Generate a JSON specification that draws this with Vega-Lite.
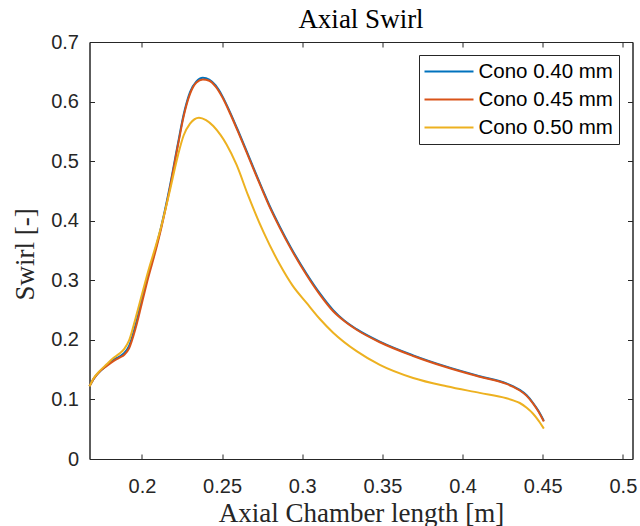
{
  "$schema": "https://vega.github.io/schema/vega-lite/v6.json",
  "width": 543,
  "height": 417,
  "autosize": {"type": "none"},
  "padding": {"left": 89.5, "top": 42, "right": 7.5, "bottom": 67},
  "background": "white",
  "config": {"view": {"stroke": "#262626", "strokeWidth": 1}},
  "title": {"text": "Axial Swirl", "font": "Liberation Serif", "fontSize": 27, "fontWeight": "normal", "color": "#000000", "anchor": "middle", "frame": "group", "baseline": "alphabetic", "offset": 12, "dy": 35},
  "data": {"values": [
    {"s": "Cono 0.40 mm", "x": 0.1673, "y": 0.122},
    {"s": "Cono 0.40 mm", "x": 0.170, "y": 0.135},
    {"s": "Cono 0.40 mm", "x": 0.1734, "y": 0.146},
    {"s": "Cono 0.40 mm", "x": 0.178, "y": 0.157},
    {"s": "Cono 0.40 mm", "x": 0.182, "y": 0.166},
    {"s": "Cono 0.40 mm", "x": 0.186, "y": 0.172},
    {"s": "Cono 0.40 mm", "x": 0.189, "y": 0.178},
    {"s": "Cono 0.40 mm", "x": 0.192, "y": 0.190},
    {"s": "Cono 0.40 mm", "x": 0.196, "y": 0.225},
    {"s": "Cono 0.40 mm", "x": 0.200, "y": 0.268},
    {"s": "Cono 0.40 mm", "x": 0.204, "y": 0.310},
    {"s": "Cono 0.40 mm", "x": 0.208, "y": 0.348},
    {"s": "Cono 0.40 mm", "x": 0.212, "y": 0.390},
    {"s": "Cono 0.40 mm", "x": 0.2173, "y": 0.456},
    {"s": "Cono 0.40 mm", "x": 0.2225, "y": 0.530},
    {"s": "Cono 0.40 mm", "x": 0.226, "y": 0.578},
    {"s": "Cono 0.40 mm", "x": 0.230, "y": 0.616},
    {"s": "Cono 0.40 mm", "x": 0.234, "y": 0.634},
    {"s": "Cono 0.40 mm", "x": 0.238, "y": 0.640},
    {"s": "Cono 0.40 mm", "x": 0.242, "y": 0.637},
    {"s": "Cono 0.40 mm", "x": 0.246, "y": 0.627},
    {"s": "Cono 0.40 mm", "x": 0.250, "y": 0.610},
    {"s": "Cono 0.40 mm", "x": 0.255, "y": 0.582},
    {"s": "Cono 0.40 mm", "x": 0.260, "y": 0.551},
    {"s": "Cono 0.40 mm", "x": 0.265, "y": 0.519},
    {"s": "Cono 0.40 mm", "x": 0.270, "y": 0.486},
    {"s": "Cono 0.40 mm", "x": 0.275, "y": 0.454},
    {"s": "Cono 0.40 mm", "x": 0.280, "y": 0.423},
    {"s": "Cono 0.40 mm", "x": 0.286, "y": 0.390},
    {"s": "Cono 0.40 mm", "x": 0.2927, "y": 0.356},
    {"s": "Cono 0.40 mm", "x": 0.3027, "y": 0.311},
    {"s": "Cono 0.40 mm", "x": 0.311, "y": 0.278},
    {"s": "Cono 0.40 mm", "x": 0.3193, "y": 0.250},
    {"s": "Cono 0.40 mm", "x": 0.326, "y": 0.233},
    {"s": "Cono 0.40 mm", "x": 0.3339, "y": 0.218},
    {"s": "Cono 0.40 mm", "x": 0.3484, "y": 0.197},
    {"s": "Cono 0.40 mm", "x": 0.3692, "y": 0.174},
    {"s": "Cono 0.40 mm", "x": 0.390, "y": 0.155},
    {"s": "Cono 0.40 mm", "x": 0.4107, "y": 0.139},
    {"s": "Cono 0.40 mm", "x": 0.4274, "y": 0.127},
    {"s": "Cono 0.40 mm", "x": 0.432, "y": 0.1215},
    {"s": "Cono 0.40 mm", "x": 0.4357, "y": 0.116},
    {"s": "Cono 0.40 mm", "x": 0.440, "y": 0.107},
    {"s": "Cono 0.40 mm", "x": 0.444, "y": 0.094},
    {"s": "Cono 0.40 mm", "x": 0.4475, "y": 0.080},
    {"s": "Cono 0.40 mm", "x": 0.4507, "y": 0.064},

    {"s": "Cono 0.45 mm", "x": 0.1673, "y": 0.122},
    {"s": "Cono 0.45 mm", "x": 0.170, "y": 0.135},
    {"s": "Cono 0.45 mm", "x": 0.1734, "y": 0.146},
    {"s": "Cono 0.45 mm", "x": 0.178, "y": 0.156},
    {"s": "Cono 0.45 mm", "x": 0.182, "y": 0.164},
    {"s": "Cono 0.45 mm", "x": 0.186, "y": 0.170},
    {"s": "Cono 0.45 mm", "x": 0.189, "y": 0.175},
    {"s": "Cono 0.45 mm", "x": 0.192, "y": 0.186},
    {"s": "Cono 0.45 mm", "x": 0.196, "y": 0.219},
    {"s": "Cono 0.45 mm", "x": 0.200, "y": 0.262},
    {"s": "Cono 0.45 mm", "x": 0.204, "y": 0.305},
    {"s": "Cono 0.45 mm", "x": 0.208, "y": 0.344},
    {"s": "Cono 0.45 mm", "x": 0.212, "y": 0.387},
    {"s": "Cono 0.45 mm", "x": 0.2173, "y": 0.453},
    {"s": "Cono 0.45 mm", "x": 0.2225, "y": 0.527},
    {"s": "Cono 0.45 mm", "x": 0.226, "y": 0.575},
    {"s": "Cono 0.45 mm", "x": 0.230, "y": 0.613},
    {"s": "Cono 0.45 mm", "x": 0.234, "y": 0.632},
    {"s": "Cono 0.45 mm", "x": 0.238, "y": 0.637},
    {"s": "Cono 0.45 mm", "x": 0.242, "y": 0.635},
    {"s": "Cono 0.45 mm", "x": 0.246, "y": 0.625},
    {"s": "Cono 0.45 mm", "x": 0.250, "y": 0.608},
    {"s": "Cono 0.45 mm", "x": 0.255, "y": 0.580},
    {"s": "Cono 0.45 mm", "x": 0.260, "y": 0.549},
    {"s": "Cono 0.45 mm", "x": 0.265, "y": 0.517},
    {"s": "Cono 0.45 mm", "x": 0.270, "y": 0.484},
    {"s": "Cono 0.45 mm", "x": 0.275, "y": 0.452},
    {"s": "Cono 0.45 mm", "x": 0.280, "y": 0.421},
    {"s": "Cono 0.45 mm", "x": 0.286, "y": 0.388},
    {"s": "Cono 0.45 mm", "x": 0.2927, "y": 0.354},
    {"s": "Cono 0.45 mm", "x": 0.3027, "y": 0.309},
    {"s": "Cono 0.45 mm", "x": 0.311, "y": 0.276},
    {"s": "Cono 0.45 mm", "x": 0.3193, "y": 0.248},
    {"s": "Cono 0.45 mm", "x": 0.326, "y": 0.232},
    {"s": "Cono 0.45 mm", "x": 0.3339, "y": 0.217},
    {"s": "Cono 0.45 mm", "x": 0.3484, "y": 0.196},
    {"s": "Cono 0.45 mm", "x": 0.3692, "y": 0.173},
    {"s": "Cono 0.45 mm", "x": 0.390, "y": 0.154},
    {"s": "Cono 0.45 mm", "x": 0.4107, "y": 0.138},
    {"s": "Cono 0.45 mm", "x": 0.4274, "y": 0.126},
    {"s": "Cono 0.45 mm", "x": 0.432, "y": 0.1205},
    {"s": "Cono 0.45 mm", "x": 0.4357, "y": 0.115},
    {"s": "Cono 0.45 mm", "x": 0.440, "y": 0.106},
    {"s": "Cono 0.45 mm", "x": 0.444, "y": 0.093},
    {"s": "Cono 0.45 mm", "x": 0.4475, "y": 0.079},
    {"s": "Cono 0.45 mm", "x": 0.4507, "y": 0.063},

    {"s": "Cono 0.50 mm", "x": 0.1673, "y": 0.122},
    {"s": "Cono 0.50 mm", "x": 0.170, "y": 0.136},
    {"s": "Cono 0.50 mm", "x": 0.1734, "y": 0.147},
    {"s": "Cono 0.50 mm", "x": 0.178, "y": 0.159},
    {"s": "Cono 0.50 mm", "x": 0.182, "y": 0.169},
    {"s": "Cono 0.50 mm", "x": 0.186, "y": 0.177},
    {"s": "Cono 0.50 mm", "x": 0.189, "y": 0.185},
    {"s": "Cono 0.50 mm", "x": 0.192, "y": 0.199},
    {"s": "Cono 0.50 mm", "x": 0.196, "y": 0.236},
    {"s": "Cono 0.50 mm", "x": 0.200, "y": 0.276},
    {"s": "Cono 0.50 mm", "x": 0.204, "y": 0.316},
    {"s": "Cono 0.50 mm", "x": 0.208, "y": 0.352},
    {"s": "Cono 0.50 mm", "x": 0.212, "y": 0.390},
    {"s": "Cono 0.50 mm", "x": 0.2173, "y": 0.449},
    {"s": "Cono 0.50 mm", "x": 0.2225, "y": 0.510},
    {"s": "Cono 0.50 mm", "x": 0.226, "y": 0.543},
    {"s": "Cono 0.50 mm", "x": 0.230, "y": 0.563},
    {"s": "Cono 0.50 mm", "x": 0.2356, "y": 0.573},
    {"s": "Cono 0.50 mm", "x": 0.240, "y": 0.569},
    {"s": "Cono 0.50 mm", "x": 0.2445, "y": 0.559},
    {"s": "Cono 0.50 mm", "x": 0.249, "y": 0.544},
    {"s": "Cono 0.50 mm", "x": 0.2528, "y": 0.528},
    {"s": "Cono 0.50 mm", "x": 0.259, "y": 0.494},
    {"s": "Cono 0.50 mm", "x": 0.2663, "y": 0.442},
    {"s": "Cono 0.50 mm", "x": 0.276, "y": 0.380},
    {"s": "Cono 0.50 mm", "x": 0.2861, "y": 0.326},
    {"s": "Cono 0.50 mm", "x": 0.294, "y": 0.291},
    {"s": "Cono 0.50 mm", "x": 0.3027, "y": 0.262},
    {"s": "Cono 0.50 mm", "x": 0.311, "y": 0.235},
    {"s": "Cono 0.50 mm", "x": 0.3193, "y": 0.212},
    {"s": "Cono 0.50 mm", "x": 0.3339, "y": 0.181},
    {"s": "Cono 0.50 mm", "x": 0.3484, "y": 0.158},
    {"s": "Cono 0.50 mm", "x": 0.3692, "y": 0.136},
    {"s": "Cono 0.50 mm", "x": 0.390, "y": 0.122},
    {"s": "Cono 0.50 mm", "x": 0.4107, "y": 0.111},
    {"s": "Cono 0.50 mm", "x": 0.4274, "y": 0.102},
    {"s": "Cono 0.50 mm", "x": 0.432, "y": 0.098},
    {"s": "Cono 0.50 mm", "x": 0.4357, "y": 0.094},
    {"s": "Cono 0.50 mm", "x": 0.440, "y": 0.086},
    {"s": "Cono 0.50 mm", "x": 0.444, "y": 0.076},
    {"s": "Cono 0.50 mm", "x": 0.4475, "y": 0.064},
    {"s": "Cono 0.50 mm", "x": 0.4507, "y": 0.051}
  ]},
  "layer": [
    {
      "mark": {"type": "line", "strokeWidth": 2, "interpolate": "monotone"},
      "encoding": {
        "x": {"field": "x", "type": "quantitative",
          "scale": {"domain": [0.1673, 0.506], "nice": false, "zero": false},
          "axis": {"orient": "bottom", "values": [0.2, 0.25, 0.3, 0.35, 0.4, 0.45, 0.5], "format": "~g", "grid": false,
            "tickSize": -5, "tickColor": "#262626", "domainColor": "#262626",
            "labelFont": "Liberation Sans", "labelFontSize": 20, "labelColor": "#262626", "labelBaseline": "alphabetic", "labelPadding": 38, "labelFlush": false, "labelOverlap": false,
            "title": "Axial Chamber length [m]", "titleFont": "Liberation Serif", "titleFontSize": 27, "titleFontWeight": "normal", "titleColor": "#262626", "titleBaseline": "alphabetic", "titleY": 62}},
        "y": {"field": "y", "type": "quantitative",
          "scale": {"domain": [0, 0.7], "nice": false},
          "axis": {"orient": "left", "values": [0, 0.1, 0.2, 0.3, 0.4, 0.5, 0.6, 0.7], "format": "~g", "grid": false,
            "tickSize": -5, "tickColor": "#262626", "domainColor": "#262626",
            "labelFont": "Liberation Sans", "labelFontSize": 20, "labelColor": "#262626", "labelPadding": 16, "labelFlush": false, "labelOverlap": false,
            "title": "Swirl [-]", "titleFont": "Liberation Serif", "titleFontSize": 27, "titleFontWeight": "normal", "titleColor": "#262626", "titleBaseline": "alphabetic", "titleX": -56, "titleY": 212}},
        "color": {"field": "s", "type": "nominal",
          "scale": {"domain": ["Cono 0.40 mm", "Cono 0.45 mm", "Cono 0.50 mm"], "range": ["#0072BD", "#D95319", "#EDB120"]},
          "legend": {"orient": "none", "legendX": 329.5, "legendY": 13, "title": null,
            "strokeColor": "#262626", "fillColor": "white", "padding": 5.5,
            "symbolType": "M-1.1,0H3.8", "symbolSize": 400, "symbolStrokeWidth": 2,
            "labelFont": "Liberation Sans", "labelFontSize": 20.5, "labelColor": "#000000", "labelOffset": 32, "rowPadding": 6}}
      }
    },
    {
      "mark": {"type": "line", "opacity": 0},
      "encoding": {
        "x": {"field": "x", "type": "quantitative",
          "scale": {"domain": [0.1673, 0.506], "nice": false, "zero": false},
          "axis": {"orient": "top", "values": [0.2, 0.25, 0.3, 0.35, 0.4, 0.45, 0.5], "labels": false, "title": null, "grid": false, "tickSize": -5, "tickColor": "#262626", "domainColor": "#262626"}},
        "y": {"field": "y", "type": "quantitative",
          "scale": {"domain": [0, 0.7], "nice": false},
          "axis": {"orient": "right", "values": [0, 0.1, 0.2, 0.3, 0.4, 0.5, 0.6, 0.7], "labels": false, "title": null, "grid": false, "tickSize": -5, "tickColor": "#262626", "domainColor": "#262626"}}
      }
    }
  ],
  "resolve": {"axis": {"x": "independent", "y": "independent"}}
}
